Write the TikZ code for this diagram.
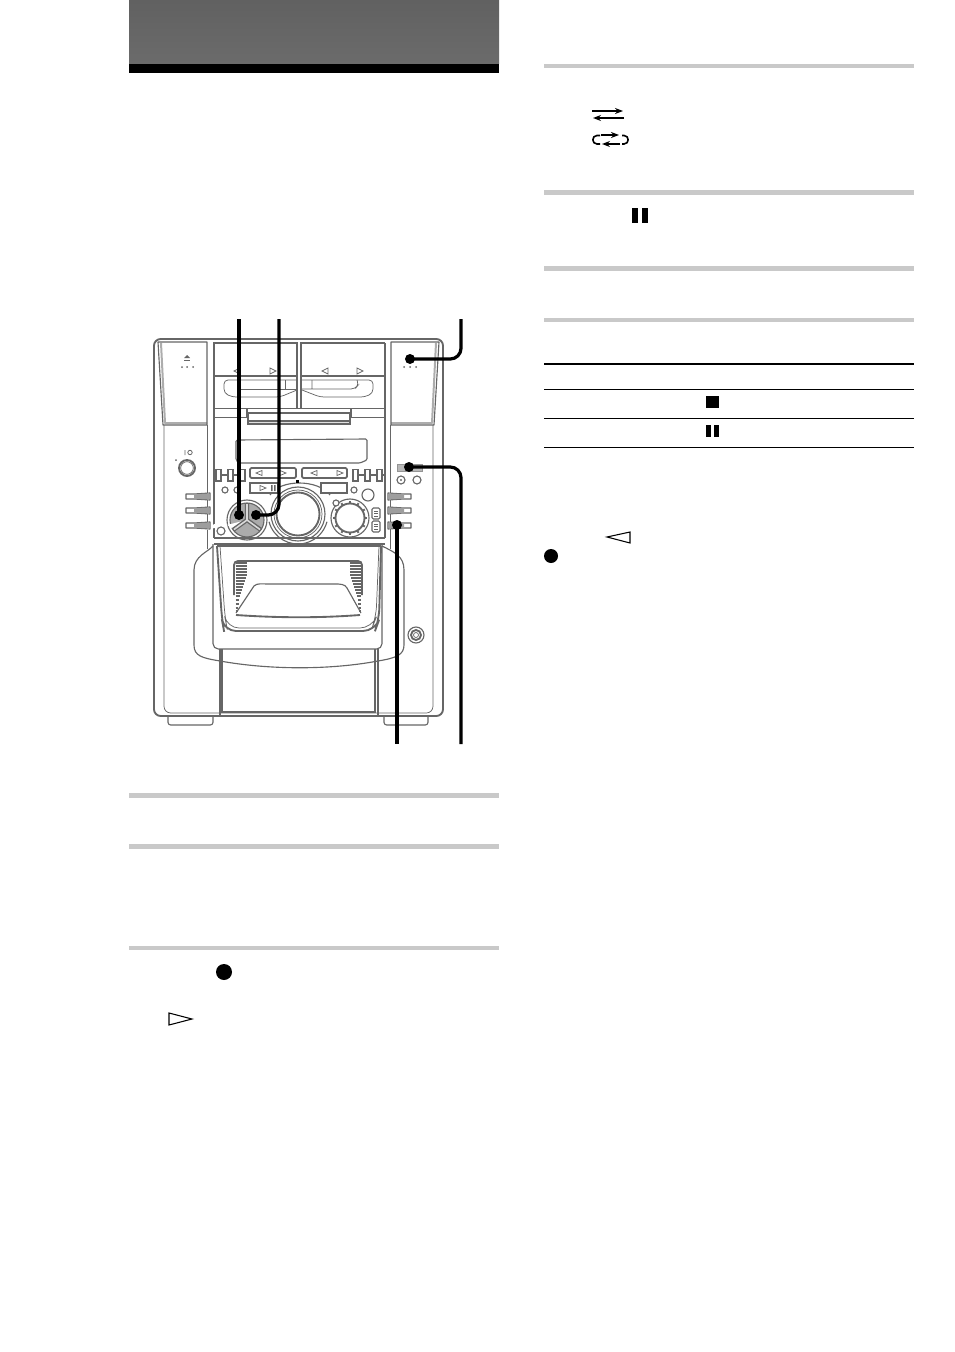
\documentclass[tikz,border=0pt]{standalone}
\definecolor{rulegray}{gray}{0.79}
\definecolor{devline}{gray}{0.40}
\definecolor{devlight}{gray}{0.68}
\tikzset{
  px/.style={x=0.75pt,y=-0.75pt},
  rulebar/.style={fill=rulegray,draw=none},
  tableline/.style={draw=black,line width=0.75pt},
  dev/.style={draw=devline,line width=0.85pt},
  devthin/.style={draw=devline,line width=0.55pt},
  devthick/.style={draw=devline,line width=1.4pt},
  leader/.style={draw=black,line width=2.4pt,rounded corners=8pt},
  leaderdot/.style={circle,fill=black,inner sep=0pt,minimum size=7.5pt},
  solidicon/.style={fill=black,draw=none},
  tri/.style={draw=black,line width=0.8pt,line join=miter},
  thinarrow/.style={draw=black,line width=1pt,-{Stealth[length=6pt,width=4.5pt]}}
}
\usetikzlibrary{arrows.meta}
\begin{document}
\begin{tikzpicture}[px]
\useasboundingbox (0,0) rectangle (954,1352);
% page header
\fill[top color=black!62,bottom color=black!58] (129,0) rectangle (499,64);
\fill[black] (129,64) rectangle (499,73);
% grey rules
\foreach \a/\b in {793/798,844/849,946/950}{\fill[rulebar] (129,\a) rectangle (499,\b);}
\foreach \a/\b in {64/68,190/195,266/271,318/322}{\fill[rulebar] (544,\a) rectangle (914,\b);}
% table
\draw[tableline,line width=1.6pt] (544,364) -- (914,364);
\foreach \y in {389.5,418.5,447.5}{\draw[tableline] (544,\y) -- (914,\y);}
\fill[solidicon] (706,396) rectangle (719,408);
\fill[solidicon] (706,425) rectangle (711,437);
\fill[solidicon] (714,425) rectangle (719,437);
% right column icons
\draw[thinarrow] (592,111) -- (623,111);
\draw[thinarrow] (624,118) -- (593,118);
\draw[thinarrow] (601,135) -- (619,135);
\draw[thinarrow] (620,144) -- (602,144);
\draw[black,line width=1.2pt] (600,135.5) -- (597,135.5) .. controls (591.5,135.5) and (591.5,144) .. (597,144) -- (600,144);
\draw[black,line width=1.2pt] (622,135.5) -- (624,135.5) .. controls (629.5,135.5) and (629.5,144) .. (624,144) -- (622,144);
\fill[solidicon] (632,208) rectangle (638,223);
\fill[solidicon] (642,208) rectangle (648,223);
\draw[tri] (630,532) -- (630,543) -- (607,537) -- cycle;
\fill[solidicon] (551,556) circle (7);
% left column icons
\fill[solidicon] (224,972) circle (8);
\draw[tri] (169,1013) -- (169,1025) -- (192,1019) -- cycle;

% ---------- device ----------
% feet
\draw[dev,rounded corners=2pt] (168,716) -- (168,725) -- (213,725) -- (213,716);
\draw[dev,rounded corners=2pt] (384,716) -- (384,725) -- (428,725) -- (428,716);
% body
\draw[devthick,rounded corners=5pt] (300,339) -- (154,339) -- (154,716) -- (443,716) -- (443,339) -- cycle;
\draw[devthin,rounded corners=5pt] (164,425) -- (164,713) -- (433,713) -- (433,425);
% doors
\draw[line width=1.5pt,draw=devlight,line join=round] (161,343) -- (165,423) -- (207,423) (391,423) -- (432,423) -- (436,343);
\draw[dev,line join=round] (158,342) -- (163,425) -- (207,425) -- (207,342) -- cycle;
\draw[dev,line join=round] (391,342) -- (391,425) -- (434,425) -- (439,342) -- cycle;
% eject and door dots
\fill[devline] (184,358) -- (187,355) -- (190,358) -- cycle;
\fill[devline] (184,359.5) rectangle (190,361);
\foreach \x in {182,187,193}{\fill[devline] (\x,367) circle (1);}
\foreach \x in {404,410,416}{\fill[devline] (\x,367) circle (1);}
% cassette decks
\draw[devthick] (213,343) -- (297,343) -- (297,408) (301,408) -- (301,343) -- (385,343);
\draw[dev] (213,376) -- (297,376) (301,376) -- (385,376);
\foreach \x/\d in {237/-1,325/-1,273/1,360/1}{
  \draw[devthin] (\x-\d*3,368) -- (\x-\d*3,374) -- (\x+\d*3,371) -- cycle;
}
\draw[devthin,rounded corners=3pt] (297,380) -- (224,380) -- (224,393) -- (232,397) -- (280,397) -- (297,390);
\draw[devthin,rounded corners=3pt] (240,389) -- (297,389) (285,380) -- (285,389);
\draw[devthin,rounded corners=3pt] (302,380) -- (373,380) -- (373,393) -- (365,397) -- (320,397) -- (302,390);
\draw[devthin,rounded corners=3pt] (302,389) -- (355,389) -- (359,384) -- (357,380) (312,380) -- (312,389);
% CD tray
\draw[dev] (213,408.5) -- (297,408.5) (301,408.5) -- (385,408.5);
\draw[dev] (247,418) -- (247,408.5) -- (351,408.5) -- (351,418);
\draw[devthick,fill=black!12] (248,413) rectangle (350,424);
\draw[draw=devline,line width=1pt,fill=white] (248,413) rectangle (350,421);
% centre panel sides
\draw[devthick] (214,343) -- (214,538) (385,343) -- (385,538);
\draw[dev] (214,417.5) -- (247,417.5) (351,417.5) -- (385,417.5);
\draw[devthin] (207,425) -- (207,549) (390,425) -- (390,549);
% display
\draw[dev,rounded corners=1pt] (236,440) -- (367,439) -- (367,460) -- (360,463) -- (239,463) -- (236,460) -- cycle;
% power
\draw[devthick] (187,468) circle (8);
\draw[devthin] (187,468) circle (6.3);
\fill[devline] (176,460) circle (1);
\draw[devline,line width=0.6pt] (185,450) -- (185,455) (190,452.5) circle (2.2);
% rocker ladders
\draw[dev] (215,475) -- (246,475) (352,475) -- (385,475);
\foreach \x in {216,228,240,353,365,377}{
  \draw[devthick,fill=white] (\x,469.5) rectangle (\x+5,481);
}
% big volume knob
\draw[dev] (270,495) .. controls (280,479) and (318,479) .. (330,495);
\draw[dev] (298,514) ++(165:30) arc[start angle=165,end angle=15,radius=30];
\draw[dev] (298,514) circle (27);
\draw[devthick] (298,514) circle (21.5);
\draw[devthin] (298,514) circle (24);
\fill[black] (296,479.5) rectangle (299,482.5);
% transport buttons
\draw[devthick,fill=white,rounded corners=1pt] (250,468) rectangle (296,478);
\draw[devthick,fill=white,rounded corners=1pt] (302,468) rectangle (347,478);
\draw[dev,fill=white] (250,483) rectangle (278,493);
\draw[dev,fill=white] (321,483) rectangle (347,493);
\foreach \x/\d in {259/-1,283/1,314/-1,340/1}{
  \draw[devthin] (\x-\d*3,470.5) -- (\x-\d*3,475.5) -- (\x+\d*3,473) -- cycle;
}
\draw[devthin] (260,485.5) -- (260,490.5) -- (266,488) -- cycle;
\fill[devline] (271,485) rectangle (272.5,491) (274,485) rectangle (275.5,491);
% left jog wheel
\draw[dev,fill=white] (247,520) circle (20);
\draw[dev,fill=black!33] (247,520) circle (17);
\fill[white] (247,520) -- (233.5,530) arc[start angle=143,end angle=37,radius=-17] -- cycle;
\draw[draw=devline,line width=3.2pt] (247,520) -- (247,503) (247,520) -- (233,530) (247,520) -- (261,530);
\draw[draw=black!15,line width=1.2pt] (247,520) -- (247,504) (247,520) -- (234,529.5) (247,520) -- (260,529.5);
% right toothed knob
\draw[dev] (350,518) circle (19);
\draw[devthick] (350,518) circle (14.5);
\foreach \a in {0,30,...,330}{\draw[devthick] (350,518) ++(\a:14.5) -- ++(\a:2.6);}
% small round controls
\foreach \x/\y/\r in {225/490/3,237/490/3,354/490/3,368/495/6,221/531/4,336/503/3}{\draw[dev,fill=white] (\x,\y) circle (\r);}
\draw[dev,fill=white,rounded corners=1pt] (372,508) rectangle (380,519);
\draw[dev,fill=white,rounded corners=1pt] (372,521) rectangle (380,532);
\foreach \y in {511,513.5,516,524,526.5,529}{\draw[devthin] (374,\y) -- (378,\y);}
% side buttons
\foreach \y in {493,507,522}{
  \draw[dev,fill=white,line join=round] (186,\y+1) -- (194,\y+1) -- (210,\y) -- (210,\y+7) -- (194,\y+6) -- (186,\y+6) -- cycle;
  \fill[black!38] (194,\y+1) -- (209.5,\y+0.5) -- (209.5,\y+6.5) -- (194,\y+6) -- cycle;
  \draw[dev,fill=white,line join=round] (388,\y) -- (404,\y+1) -- (411,\y+1) -- (411,\y+6) -- (404,\y+6) -- (388,\y+7) -- cycle;
  \fill[black!38] (388.5,\y+0.5) -- (404,\y+1) -- (404,\y+6) -- (388.5,\y+6.5) -- cycle;
}
% top-right switch and circles
\draw[draw=devline!70,line width=0.6pt,fill=black!28] (397,464) rectangle (422,471);
\draw[dev] (401,480) circle (4);
\fill[devline] (401,480) circle (1.2);
\draw[dev] (417,480) circle (4);
% lower panel
\draw[dev] (214,538) -- (385,538) (214,544) -- (385,544);
\draw[dev,rounded corners=4pt] (213,544) -- (213,649) -- (382,649) -- (382,544);
\draw[dev] (217,546) -- (381,546);
\draw[devthick,rounded corners=9pt] (217,546) -- (222,620) -- (224,631) -- (375,631) -- (379,620) -- (381,546);
\draw[devthin,rounded corners=9pt] (220,546) -- (225,618) -- (227,628) -- (372,628) -- (376,618) -- (379,546);
% cassette window
\draw[devthick,rounded corners=3pt] (234,595) -- (234,561) -- (362,561) -- (362,595);
\draw[dev] (236,613) -- (254,586) .. controls (257,583) and (262,584) .. (268,584) -- (335,584) .. controls (340,584) and (345,584) .. (347,588) -- (361,613);
\draw[devthick] (236,615) .. controls (280,618) and (320,618) .. (360,615);
\foreach \y/\w in {563/11,566/11,569/11,572/11,575/11,578/10,581/9,584/8,587/7,590/6,593/5,596/4,600/3,604/3,608/2,611/2}{
  \draw[dev] (235.5,\y) -- (235.5+\w,\y);
  \draw[dev] (360.5,\y) -- (360.5-\w,\y);
}
% surround curve
\draw[dev] (213,546) .. controls (208,552) and (194,556) .. (194,570) -- (194,645) .. controls (194,656) and (202,658) .. (220,661) .. controls (270,670) and (330,670) .. (378,661) .. controls (396,658) and (404,655) .. (404,645) -- (404,570) .. controls (404,556) and (394,552) .. (382,546);
% lower block
\draw[dev] (220,649) -- (220,715) (378,649) -- (378,715);
\draw[devthick] (222,649) -- (222,712) -- (375,712) -- (375,649);
% jack
\draw[dev] (416,635) circle (8);
\draw[devthick] (416,635) circle (5);
\draw[devthin] (416,635) circle (2.5);

% ---------- leaders ----------
\node[leaderdot] (d1) at (239,515) {};
\node[leaderdot] (d2) at (256,515) {};
\node[leaderdot] (d3) at (410,359) {};
\node[leaderdot] (d4) at (409,467) {};
\node[leaderdot] (d5) at (397,525) {};
\coordinate (t1) at (239,319);
\coordinate (t2) at (279,319);
\coordinate (t3) at (461,319);
\coordinate (b4) at (461,744);
\coordinate (b5) at (397,744);
\draw[leader] (t1) -- (d1.center);
\draw[leader] (t2) |- (d2.center);
\draw[leader] (t3) |- (d3.center);
\draw[leader] (d4.center) -| (b4);
\draw[leader] (d5.center) -- (b5);
\end{tikzpicture}
\end{document}
